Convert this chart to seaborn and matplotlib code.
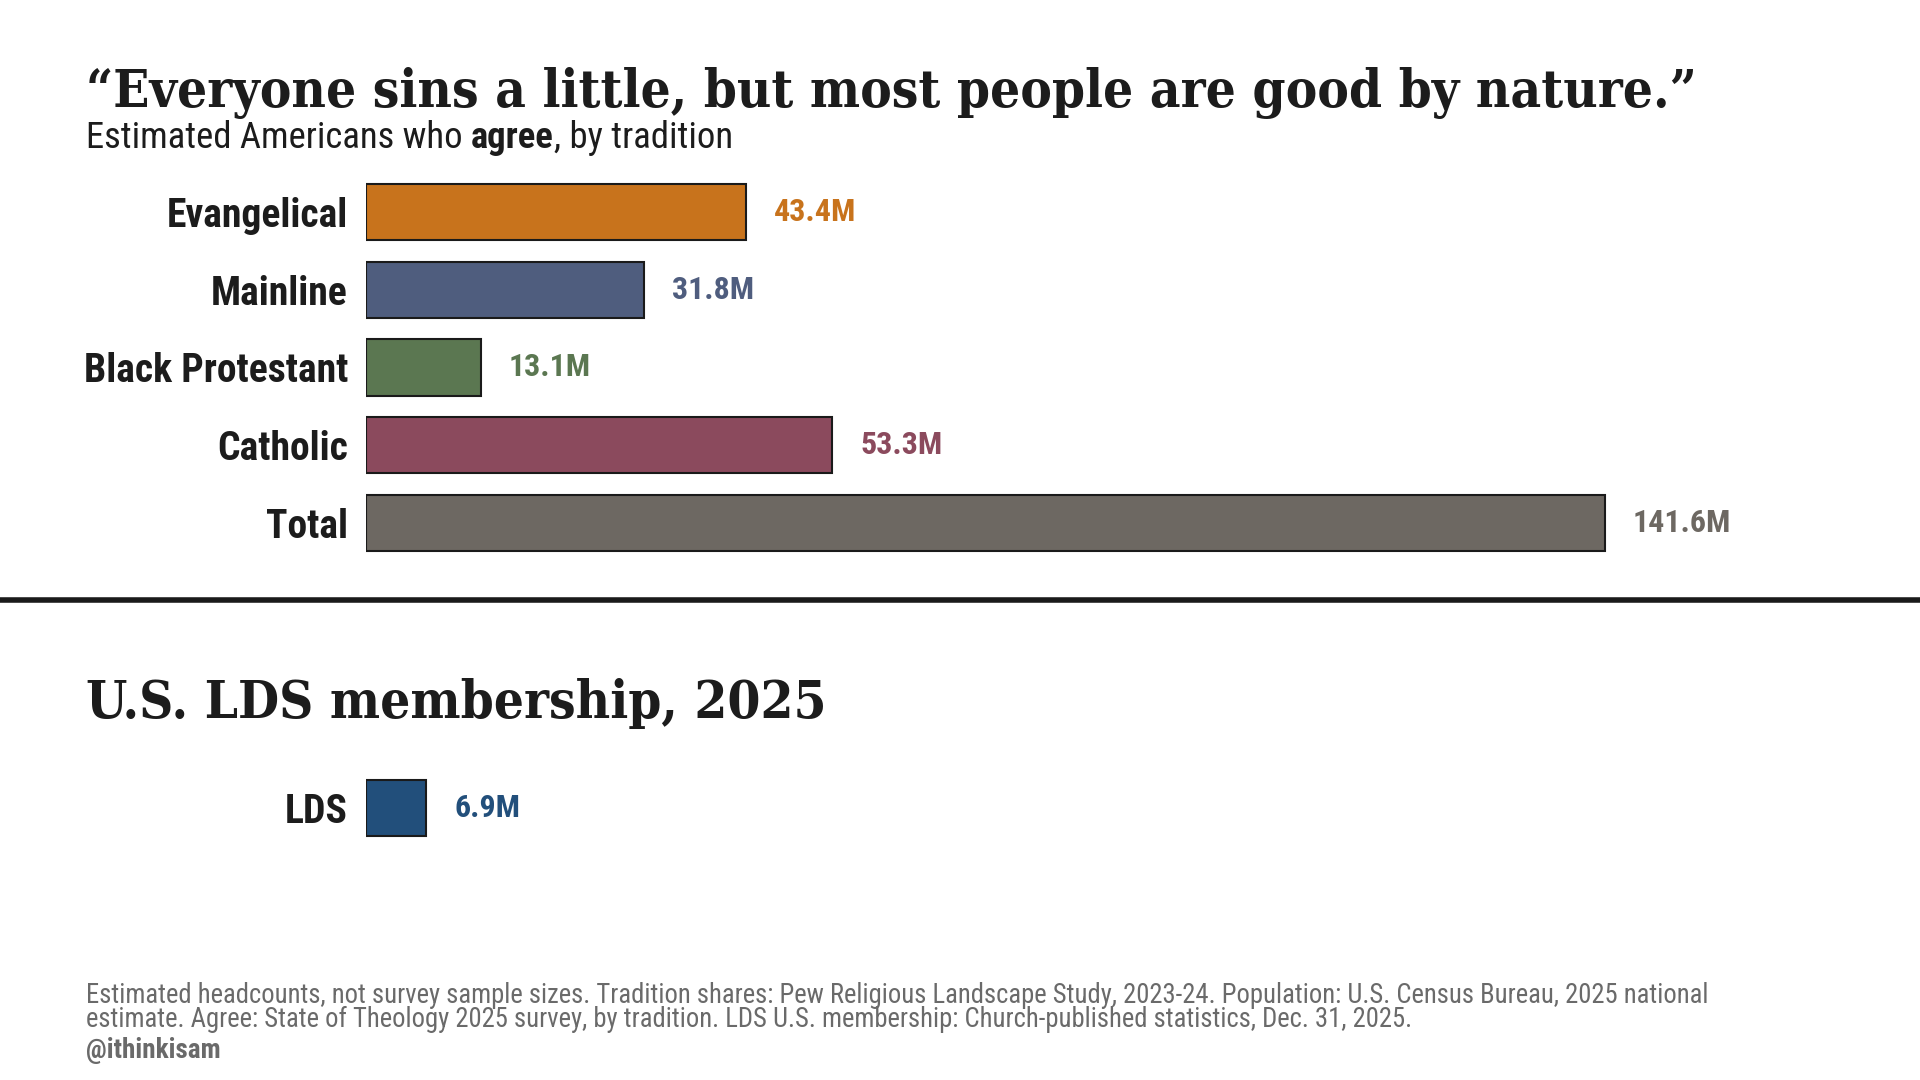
import matplotlib

matplotlib.use("Agg")
import matplotlib.pyplot as plt
import seaborn as sns
from matplotlib import font_manager
from matplotlib.lines import Line2D

# data
categories = ["Evangelical", "Mainline", "Black Protestant", "Catholic", "Total"]
agree_millions = [43.4, 31.8, 13.1, 53.3, 141.6]
bar_colors = ["#c8731c", "#4f5d7e", "#5b7751", "#8b4a5d", "#6d6862"]

lds_categories = ["LDS"]
lds_millions = [6.9]
lds_colors = ["#224f7b"]

title = "\u201cEveryone sins a little, but most people are good by nature.\u201d"
subtitle_parts = ["Estimated Americans who ", "agree", ", by tradition"]
lds_title = "U.S. LDS membership, 2025"
footer_lines = [
    "Estimated headcounts, not survey sample sizes. Tradition shares: Pew Religious Landscape Study, 2023-24. "
    "Population: U.S. Census Bureau, 2025 national",
    "estimate. Agree: State of Theology 2025 survey, by tradition. LDS U.S. membership: "
    "Church-published statistics, Dec. 31, 2025.",
]
handle = "@ithinkisam"

sns.set_theme(style="white")

fonts = font_manager.fontManager.ttflist
names = {f.name for f in fonts}


def pick(*cands):
    return next(c for c in cands if c in names)


SANS = pick("Roboto Condensed", "Roboto", "DejaVu Sans")
SLAB = pick("Roboto Slab", "DejaVu Serif")
plt.rcParams["font.family"] = [SANS, "DejaVu Sans"]

# no Roboto Slab here: squeeze DejaVu Serif so the headline keeps its width
slab_condensed = any(f.name == SLAB and "condensed" in str(f.stretch) for f in fonts)
if SLAB == "Roboto Slab":
    slab_kw = dict(fontsize=40)
elif slab_condensed:
    slab_kw = dict(fontsize=38, fontstretch="condensed")
else:
    slab_kw = dict(fontsize=34)

INK = "#1c1c1c"
GREY = "#6a6a6a"
EDGE = "#1a1a1a"
XMAX = 150

fig = plt.figure(figsize=(19.2, 10.8), dpi=100)
fig.patch.set_facecolor("white")

# same x scale for both panels
left, width = 366 / 1920, 8.75 * XMAX / 1920
ax = fig.add_axes([left, 1 - 562 / 1080, width, 389 / 1080])
ax2 = fig.add_axes([left, 1 - 847 / 1080, width, 78 / 1080])


def draw_panel(axis, cats, vals, colors):
    sns.barplot(x=vals, y=cats, hue=cats, palette=colors, legend=False, orient="h",
                width=0.72, edgecolor=EDGE, linewidth=1.5, saturation=1, ax=axis)
    for cont, v, c in zip(axis.containers, vals, colors):
        axis.bar_label(cont, labels=[f"{v}M"], padding=20, color=c,
                       fontsize=23, fontweight="bold")
    axis.set_xlim(0, XMAX)
    axis.set_ylim(len(cats) - 0.5, -0.5)
    axis.set_xlabel("")
    axis.set_ylabel("")
    axis.set_xticks([])
    axis.tick_params(axis="y", length=0, pad=13, labelsize=28.5, labelcolor=INK)
    for lab in axis.get_yticklabels():
        lab.set_fontweight("bold")
    sns.despine(ax=axis, left=True, bottom=True)
    axis.patch.set_alpha(0)


draw_panel(ax, categories, agree_millions, bar_colors)
draw_panel(ax2, lds_categories, lds_millions, lds_colors)

x0 = 86 / 1920
fig.text(x0, 1 - 107 / 1080, title, family=SLAB, fontweight="bold", color=INK,
         va="baseline", **slab_kw)

# subtitle with the bold word, chained piece by piece
first = fig.text(x0, 1 - 148 / 1080, subtitle_parts[0], fontsize=26.4, color=INK, va="baseline")
second = ax.annotate(subtitle_parts[1], xy=(1, 0), xycoords=first, va="bottom", ha="left",
                     fontsize=26.4, fontweight="bold", color=INK, annotation_clip=False)
ax.annotate(subtitle_parts[2], xy=(1, 0), xycoords=second, va="bottom", ha="left",
            fontsize=26.4, color=INK, annotation_clip=False)

fig.add_artist(Line2D([0, 1], [1 - 600 / 1080] * 2, transform=fig.transFigure,
                      color=EDGE, linewidth=4))

fig.text(x0, 1 - 718 / 1080, lds_title, family=SLAB, fontweight="bold", color=INK,
         va="baseline", **slab_kw)

fig.text(x0, 1 - 1003 / 1080, footer_lines[0], fontsize=19.2, color=GREY, va="baseline")
fig.text(x0, 1 - 1027 / 1080, footer_lines[1], fontsize=19.2, color=GREY, va="baseline")
fig.text(x0, 1 - 1058 / 1080, handle, fontsize=19.5, fontweight="bold", color=GREY, va="baseline")

fig.savefig("out.png", dpi=100)
